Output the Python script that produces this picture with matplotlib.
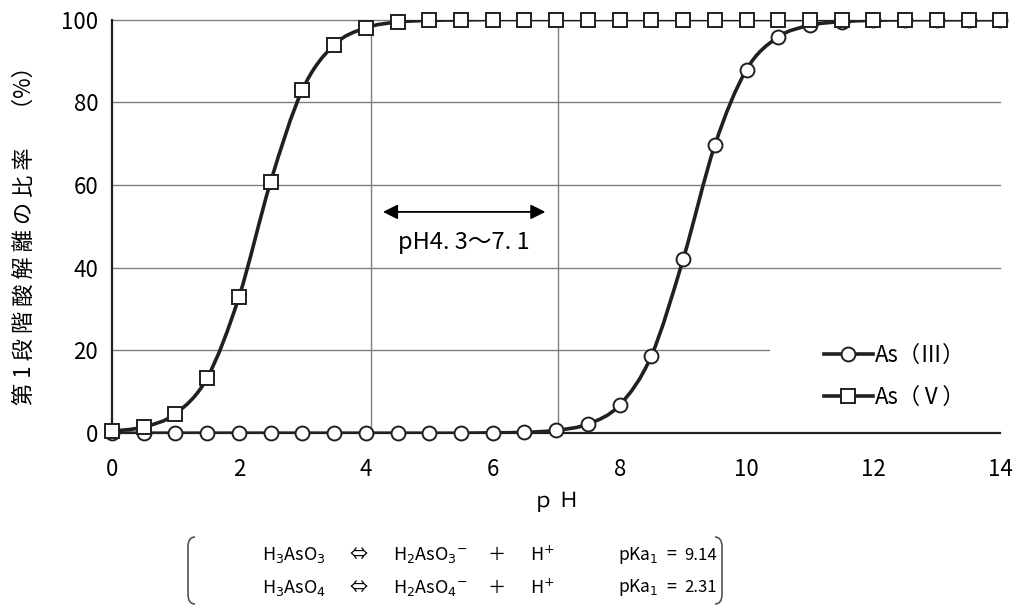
import matplotlib
matplotlib.use("Agg")
import matplotlib.pyplot as plt
from matplotlib.path import Path
from matplotlib.patches import PathPatch
from matplotlib.lines import Line2D

plt.rcParams['font.family'] = ['Noto Sans CJK JP', 'DejaVu Sans']

ph = [0, 0.5, 1, 1.5, 2, 2.5, 3, 3.5, 4, 4.5, 5, 5.5, 6, 6.5, 7,
      7.5, 8, 8.5, 9, 9.5, 10, 10.5, 11, 11.5, 12, 12.5, 13, 13.5, 14]
as3 = [0, 0, 0, 0, 0, 0, 0, 0, 0, 0, 0, 0, 0.1, 0.2, 0.7,
       2.2, 6.8, 18.7, 42.0, 69.6, 87.9, 95.8, 98.6, 99.5, 99.8, 100, 100, 100, 100]
as5 = [0.5, 1.5, 4.7, 13.4, 32.9, 60.8, 83.0, 93.9, 98.0, 99.4, 99.8, 99.9, 100, 100, 100,
       100, 100, 100, 100, 100, 100, 100, 100, 100, 100, 100, 100, 100, 100]
labels = ['As（Ⅲ）', 'As（Ⅴ）']
range_lo, range_hi = 4.3, 7.1
range_text = 'pH4. 3〜7. 1'


def smooth_path(xs, ys):
    # Catmull-Rom style smoothing, as cubic bezier segments
    verts = [(xs[0], ys[0])]
    codes = [Path.MOVETO]
    n = len(xs)
    for i in range(n - 1):
        x0, y0 = (xs[i - 1], ys[i - 1]) if i > 0 else (xs[i], ys[i])
        x1, y1 = xs[i], ys[i]
        x2, y2 = xs[i + 1], ys[i + 1]
        x3, y3 = (xs[i + 2], ys[i + 2]) if i + 2 < n else (x2, y2)
        c1 = (x1 + (x2 - x0) / 6, y1 + (y2 - y0) / 6)
        c2 = (x2 - (x3 - x1) / 6, y2 - (y3 - y1) / 6)
        verts += [c1, c2, (x2, y2)]
        codes += [Path.CURVE4] * 3
    return Path(verts, codes)


fig = plt.figure(figsize=(10.14, 6.11), dpi=100)
ax = fig.add_axes([0.1105, 0.291, 0.876, 0.677])
ax.set_xlim(0, 14)
ax.set_ylim(0, 100)

grid_c = '#7f7f7f'
for yv in [40, 60, 80, 100]:
    ax.plot([0, 14], [yv, yv], color=grid_c, lw=1, zorder=1, clip_on=False)
ax.plot([0, 10.35], [20, 20], color=grid_c, lw=1, zorder=1)
for xv in [4.08, 7.03]:
    ax.plot([xv, xv], [0, 100], color=grid_c, lw=1, zorder=1)

for ys, mk, ms in [(as3, 'o', 10), (as5, 's', 10.5)]:
    ax.add_patch(PathPatch(smooth_path(ph, ys), fill=False, lw=2.6,
                           edgecolor='#231f20', zorder=3))
    ax.plot(ph, ys, ls='none', marker=mk, ms=ms, mfc='white', mec='#231f20',
            mew=1.4, zorder=4, clip_on=False)

ax.annotate('', xy=(range_hi - 0.27, 53.5), xytext=(range_lo - 0.03, 53.5),
            arrowprops=dict(arrowstyle='<|-|>', color='black', lw=1.3,
                            mutation_scale=22, shrinkA=0, shrinkB=0))
ax.text((range_lo + range_hi) / 2 - 0.15, 46, range_text, ha='center', va='center',
        fontsize=17)

for s in ['top', 'right']:
    ax.spines[s].set_visible(False)
ax.spines['left'].set_linewidth(1.6)
ax.spines['bottom'].set_linewidth(1.6)
ax.spines['left'].set_color('#231f20')
ax.spines['bottom'].set_color('#231f20')
ax.set_xticks(range(0, 15, 2))
ax.set_yticks(range(0, 101, 20))
ax.tick_params(axis='y', length=0, labelsize=16, pad=10)
ax.tick_params(axis='x', length=0, labelsize=16, pad=18)
ax.set_xlabel('ｐ Ｈ', fontsize=15, labelpad=6)
ax.set_ylabel('第 1 段 階 酸 解 離 の 比 率 　（%）', fontsize=16)
ax.yaxis.set_label_coords(-0.086, 0.49)

handles = [Line2D([], [], color='#231f20', lw=2.6, marker='o', ms=10, mfc='white',
                  mec='#231f20', mew=1.4),
           Line2D([], [], color='#231f20', lw=2.6, marker='s', ms=10.5, mfc='white',
                  mec='#231f20', mew=1.4)]
ax.legend(handles, labels, loc='upper left', bbox_to_anchor=(0.779, 0.265),
          frameon=False, fontsize=16, handlelength=2.2, handletextpad=0.1,
          labelspacing=0.85)

# equation box below the chart
rows = [('H$_3$AsO$_3$', 'H$_2$AsO$_3$$^{-}$', '9.14'),
        ('H$_3$AsO$_4$', 'H$_2$AsO$_4$$^{-}$', '2.31')]
fs = 13
for i, (a, b, pk) in enumerate(rows):
    y = 1 - (555 + 33 * i) / 611
    fig.text(262 / 1014, y, a, fontsize=fs, va='center')
    fig.text(350 / 1014, y, '⇔', fontsize=fs, va='center')
    fig.text(393 / 1014, y, b, fontsize=fs, va='center')
    fig.text(488 / 1014, y, '＋', fontsize=fs, va='center')
    fig.text(530 / 1014, y, 'H$^{+}$', fontsize=fs, va='center')
    fig.text(618 / 1014, y, 'pKa$_1$', fontsize=fs - 0.5, va='center')
    fig.text(666 / 1014, y, '=', fontsize=fs, va='center')
    fig.text(684 / 1014, y, pk, fontsize=fs - 1, va='center')

# rounded brackets around the equations
y_top, y_bot = 1 - 537 / 611, 1 - 604 / 611
for xl, d in [(188 / 1014, 1), (722 / 1014, -1)]:
    r = 7 / 1014 * d
    h = 0.016
    verts = [(xl + r, y_top), (xl, y_top), (xl, y_top - h),
             (xl, y_bot + h), (xl, y_bot), (xl + r, y_bot)]
    codes = [Path.MOVETO, Path.CURVE3, Path.CURVE3,
             Path.LINETO, Path.CURVE3, Path.CURVE3]
    fig.add_artist(PathPatch(Path(verts, codes), fill=False, edgecolor='#555555',
                             lw=1.2, transform=fig.transFigure))

fig.savefig('out.png', dpi=100)
